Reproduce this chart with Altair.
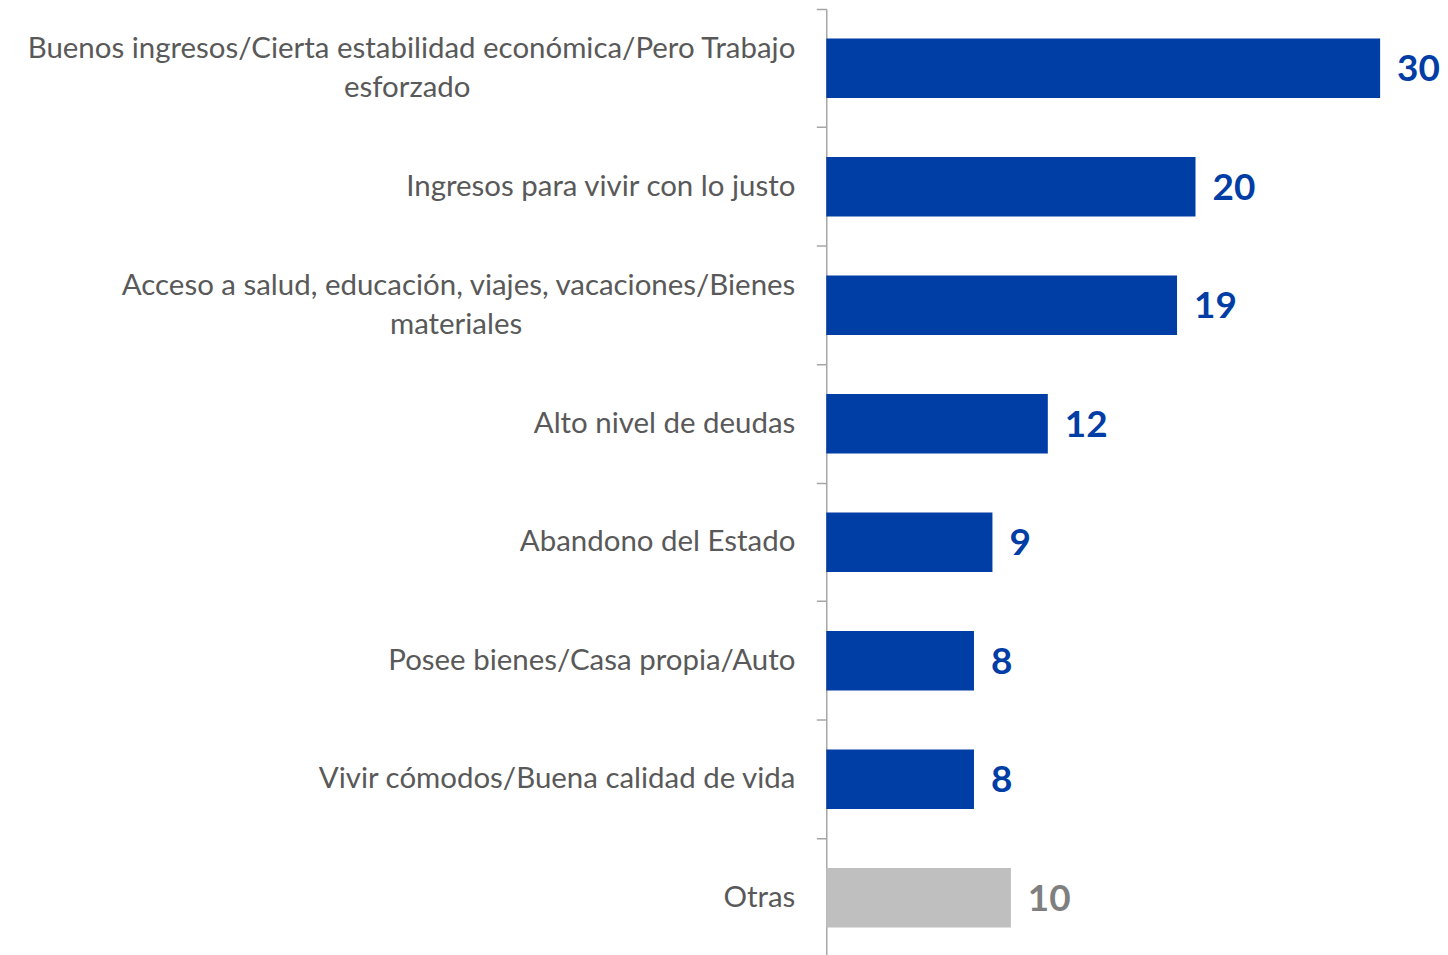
import altair as alt
import pandas as pd

categories = [
    "Buenos ingresos/Cierta estabilidad económica/Pero Trabajo",
    "Ingresos para vivir con lo justo",
    "Acceso a salud, educación, viajes, vacaciones/Bienes",
    "Alto nivel de deudas",
    "Abandono del Estado",
    "Posee bienes/Casa propia/Auto",
    "Vivir cómodos/Buena calidad de vida",
    "Otras",
]
second_lines = ["esforzado", "", "materiales", "", "", "", "", ""]
values = [30, 20, 19, 12, 9, 8, 8, 10]
groups = ["main", "main", "main", "main", "main", "main", "main", "other"]

df = pd.DataFrame({"cat": categories, "line2": second_lines, "value": values, "group": groups})

BLUE = "#003DA5"
GRAY_BAR = "#BFBFBF"
GRAY_LBL = "#7F7F7F"
TEXT = "#595959"
FONT = "Lato"
LABEL_SIZE = 29.5

# style: horizontal centre (relative to the axis) of each wrapped second line
line2_center = {"esforzado": -420, "materiales": -371}

pad_inner = 0.496
y_enc = alt.Y(
    "cat:N",
    sort=categories,
    scale=alt.Scale(paddingInner=pad_inner, paddingOuter=pad_inner / 2),
    axis=alt.Axis(
        labels=False, title=None, tickSize=10, bandPosition=-(pad_inner / 2) / (1 - pad_inner),
        domainColor="#A6A6A6", tickColor="#A6A6A6", domainWidth=1.5, tickWidth=1.5,
    ),
)
x_enc = alt.X("value:Q", scale=alt.Scale(domain=[0, 30]), axis=None)
color_enc = alt.Color("group:N", scale=alt.Scale(domain=["main", "other"], range=[BLUE, GRAY_BAR]), legend=None)

base = alt.Chart(df)

bars = base.mark_bar().encode(x=x_enc, y=y_enc, color=color_enc)

vals = base.mark_text(align="left", baseline="middle", dx=17, dy=2, font=FONT, fontSize=37, fontWeight="bold").encode(
    x=x_enc,
    y=alt.Y("cat:N", sort=categories),
    text=alt.Text("value:Q"),
    color=alt.Color("group:N", scale=alt.Scale(domain=["main", "other"], range=[BLUE, GRAY_LBL]), legend=None),
)

single = base.transform_filter("datum.line2 == ''").mark_text(
    align="right", baseline="middle", dx=-31, font=FONT, fontSize=LABEL_SIZE, color=TEXT
).encode(x=alt.value(0), y=alt.Y("cat:N", sort=categories), text="cat:N")

first = base.transform_filter("datum.line2 != ''").mark_text(
    align="right", baseline="middle", dx=-31, dy=-19.5, font=FONT, fontSize=LABEL_SIZE, color=TEXT
).encode(x=alt.value(0), y=alt.Y("cat:N", sort=categories), text="cat:N")

seconds = []
for txt, cx in line2_center.items():
    seconds.append(
        base.transform_filter(alt.datum.line2 == txt).mark_text(
            align="center", baseline="middle", dy=19.5, font=FONT, fontSize=LABEL_SIZE, color=TEXT
        ).encode(x=alt.value(cx), y=alt.Y("cat:N", sort=categories), text="line2:N")
    )

chart = alt.layer(bars, vals, single, first, *seconds).resolve_scale(color="independent").properties(
    width=555,
    height=950,
    autosize=alt.AutoSizeParams(type="none"),
    padding={"left": 820, "top": 0, "right": 60, "bottom": 0},
).configure_view(stroke=None)

chart.save("out.html", embed_options={"renderer": "svg", "actions": False})
